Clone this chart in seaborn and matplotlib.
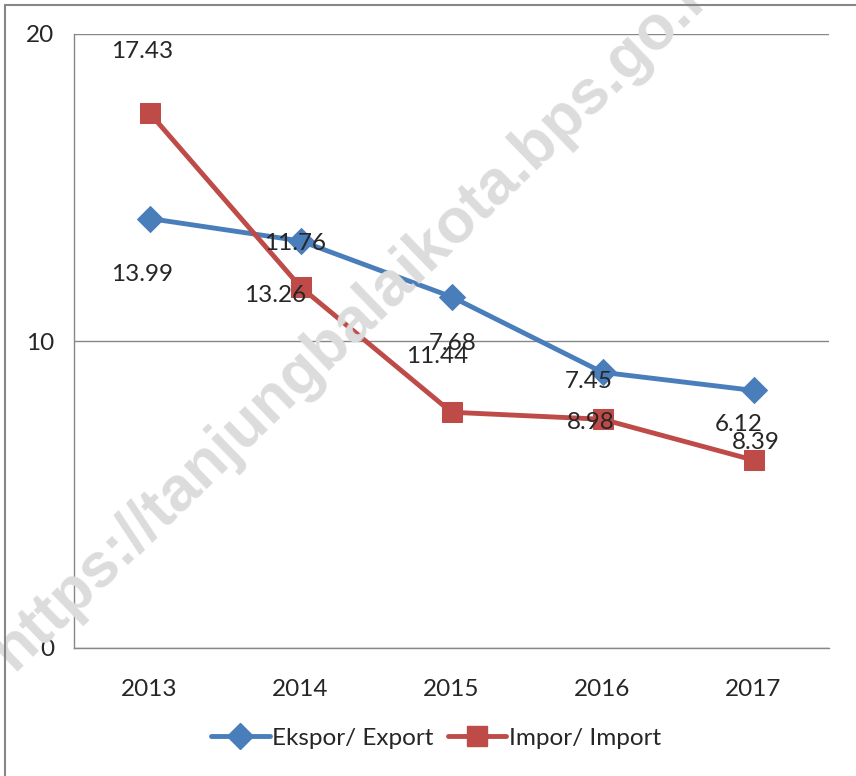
import matplotlib.pyplot as plt
import matplotlib.lines as mlines
import seaborn as sns
import pandas as pd

years = ["2013", "2014", "2015", "2016", "2017"]
export_vals = [13.99, 13.26, 11.44, 8.98, 8.39]
import_vals = [17.43, 11.76, 7.68, 7.45, 6.12]

# where the source chart puts each value label (pixel offset from its marker)
import_label_offsets = [(-7, 61), (-5, 43), (1, 69), (-14, 38), (-15, 36)]
export_label_offsets = [(-7, -56), (-25, -55), (-14, -60), (-12, -50), (2, -52)]

blue = "#4A7EBB"
red = "#BE4B48"
grid_gray = "#878787"
fs = 17.5

sns.set_style("white")
plt.rcParams['font.family'] = ['Lato', 'DejaVu Sans']

df = pd.DataFrame({"pos": range(len(years)), "export": export_vals, "import": import_vals})

fig = plt.figure(figsize=(8.56, 7.76), dpi=100)
ax = fig.add_axes([74 / 856, 1 - 648 / 776, (829 - 74) / 856, (648 - 34) / 776])

# watermark
fig.text(362 / 856, 1 - 312 / 776, "https://tanjungbalaikota.bps.go.id",
         rotation=44, ha='center', va='center', fontsize=45, fontweight='bold',
         family='Liberation Sans', color='#dcdcdc', zorder=0)
ax.patch.set_alpha(0)

sns.lineplot(data=df, x="pos", y="export", ax=ax, color=blue, lw=3.5,
             marker='D', markersize=13, markeredgecolor=blue, zorder=3)
sns.lineplot(data=df, x="pos", y="import", ax=ax, color=red, lw=3.5,
             marker='s', markersize=14, markeredgecolor=red, zorder=3)

for i, v in enumerate(import_vals):
    ax.annotate(f"{v:.2f}", (i, v), xytext=import_label_offsets[i],
                textcoords='offset pixels', ha='center', va='center', fontsize=fs, zorder=4)
for i, v in enumerate(export_vals):
    ax.annotate(f"{v:.2f}", (i, v), xytext=export_label_offsets[i],
                textcoords='offset pixels', ha='center', va='center', fontsize=fs, zorder=4)

ax.set_xlim(-0.5, 4.5)
ax.set_ylim(0, 20)
ax.set_yticks([0, 10, 20])
ax.yaxis.grid(True, color=grid_gray, lw=1)
ax.set_axisbelow(True)
ax.set_xticks(range(len(years)))
ax.set_xticklabels(years)
ax.set_xticks([i - 0.5 for i in range(len(years) + 1)], minor=True)
ax.tick_params(axis='x', which='major', length=0, pad=22, labelsize=fs)
ax.tick_params(axis='x', which='minor', length=8, color=grid_gray, width=1, direction='out')
ax.tick_params(axis='y', length=8, color=grid_gray, width=1, direction='out', pad=6, labelsize=fs)
ax.set_xlabel("")
ax.set_ylabel("")
for s in ['top', 'right']:
    ax.spines[s].set_visible(False)
for s in ['left', 'bottom']:
    ax.spines[s].set_color(grid_gray)
    ax.spines[s].set_linewidth(1)

h1 = mlines.Line2D([], [], color=blue, lw=3.5, marker='D', markersize=13)
h2 = mlines.Line2D([], [], color=red, lw=3.5, marker='s', markersize=14)
fig.legend([h1, h2], ["Ekspor/ Export", "Impor/ Import"], loc='center',
           bbox_to_anchor=(436 / 856, 1 - 738 / 776), ncol=2, frameon=False,
           fontsize=fs, handlelength=2.4, handletextpad=0.1, columnspacing=0.6)

# outer chart border (left and top edges visible in the source)
fig.add_artist(mlines.Line2D([5 / 856, 5 / 856], [0, 1 - 5 / 776], color=grid_gray, lw=1.5))
fig.add_artist(mlines.Line2D([5 / 856, 1], [1 - 5 / 776, 1 - 5 / 776], color=grid_gray, lw=1.5))

fig.savefig("out.png", dpi=100)
